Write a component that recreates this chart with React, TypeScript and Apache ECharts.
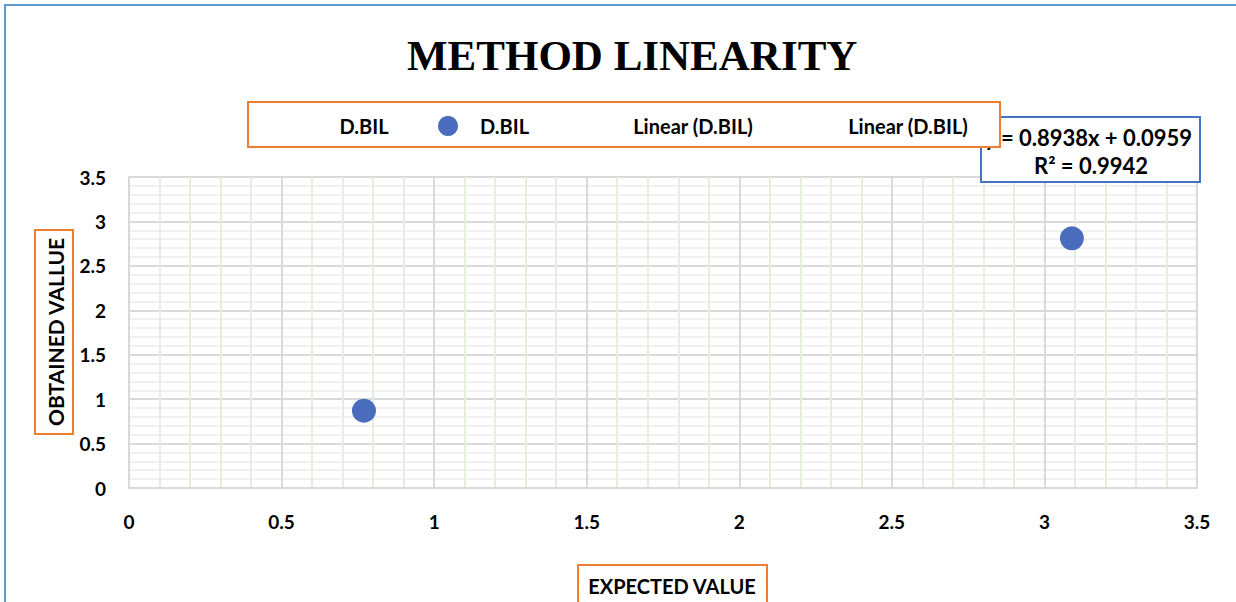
import React, { useEffect, useRef } from "react";
import * as echarts from "echarts";

const titleText = "METHOD LINEARITY";
const seriesName = "D.BIL";
const legendLabels = ["D.BIL", "D.BIL", "Linear (D.BIL)", "Linear (D.BIL)"];
const expectedValues = [0.77, 3.09];
const obtainedValues = [0.87, 2.81];
const equationLines = ["y = 0.8938x + 0.0959", "R² = 0.9942"];
const xAxisTitle = "EXPECTED VALUE";
const yAxisTitle = "OBTAINED VALLUE";

const FONT = "Lato, 'Open Sans', sans-serif";

export default function App() {
  const ref = useRef<HTMLDivElement>(null);
  useEffect(() => {
    document.body.style.margin = "0";
    const chart = echarts.init(ref.current!, null, { renderer: "svg" });
    const data = expectedValues.map((x, i) => [x, obtainedValues[i]]);
    const base = { fontFamily: FONT, fontWeight: "bold" as const, fill: "#000" };
    chart.setOption({
      animation: false,
      backgroundColor: "#fff",
      title: {
        text: titleText,
        left: 402,
        top: 29,
        textStyle: {
          fontFamily: "'Liberation Serif', 'Times New Roman', serif",
          fontWeight: "bold",
          fontSize: 43,
          color: "#000",
        },
      },
      grid: { left: 129, right: 39, top: 177, bottom: 114, containLabel: false },
      xAxis: {
        type: "value",
        min: 0,
        max: 3.5,
        interval: 0.5,
        axisLine: { show: true, lineStyle: { color: "#d9d9d9", width: 2 } },
        axisTick: { show: false },
        axisLabel: { margin: 24, fontFamily: FONT, fontWeight: "bold", fontSize: 19, color: "#000" },
        splitLine: { show: true, lineStyle: { color: "#d9d9d9", width: 2 } },
        minorTick: { show: false, splitNumber: 5 },
        minorSplitLine: { show: true, lineStyle: { color: "#e2efda", width: 2 } },
      },
      yAxis: {
        type: "value",
        min: 0,
        max: 3.5,
        interval: 0.5,
        axisLine: { show: true, lineStyle: { color: "#d9d9d9", width: 2 } },
        axisTick: { show: false },
        axisLabel: { margin: 23, fontFamily: FONT, fontWeight: "bold", fontSize: 19, color: "#000" },
        splitLine: { show: true, lineStyle: { color: "#d9d9d9", width: 2 } },
        minorTick: { show: false, splitNumber: 5 },
        minorSplitLine: { show: true, lineStyle: { color: "#f0f0f0", width: 2 } },
      },
      series: [
        {
          name: seriesName,
          type: "scatter",
          symbol: "circle",
          symbolSize: 24,
          itemStyle: { color: "#4a6cbd", opacity: 1 },
          data,
        },
      ],
      graphic: [
        {
          type: "rect",
          z: -10,
          silent: true,
          shape: { x: 5, y: 5, width: 1300, height: 700 },
          style: { fill: "none", stroke: "#5b9bd5", lineWidth: 2 },
        },
        {
          type: "rect",
          z: 10,
          shape: { x: 981, y: 117, width: 219, height: 65 },
          style: { fill: "#fff", stroke: "#4472c4", lineWidth: 2 },
        },
        {
          type: "text",
          z: 11,
          x: 1192,
          y: 137,
          style: { ...base, fontSize: 22, text: equationLines[0], align: "right", verticalAlign: "middle" },
        },
        {
          type: "text",
          z: 11,
          x: 1091,
          y: 165,
          style: { ...base, fontSize: 22, text: equationLines[1], align: "center", verticalAlign: "middle" },
        },
        {
          type: "rect",
          z: 20,
          shape: { x: 248, y: 102, width: 752, height: 45 },
          style: { fill: "#fff", stroke: "#ed7d31", lineWidth: 2 },
        },
        {
          type: "text",
          z: 21,
          x: 364,
          y: 126,
          style: { ...base, fontSize: 20, text: legendLabels[0], align: "center", verticalAlign: "middle" },
        },
        {
          type: "circle",
          z: 21,
          shape: { cx: 448, cy: 126, r: 10 },
          style: { fill: "#4a6cbd" },
        },
        {
          type: "text",
          z: 21,
          x: 480,
          y: 126,
          style: { ...base, fontSize: 20, text: legendLabels[1], align: "left", verticalAlign: "middle" },
        },
        {
          type: "text",
          z: 21,
          x: 693,
          y: 126,
          style: { ...base, fontSize: 20, text: legendLabels[2], align: "center", verticalAlign: "middle" },
        },
        {
          type: "text",
          z: 21,
          x: 908,
          y: 126,
          style: { ...base, fontSize: 20, text: legendLabels[3], align: "center", verticalAlign: "middle" },
        },
        {
          type: "rect",
          z: 20,
          shape: { x: 35, y: 230, width: 38, height: 204 },
          style: { fill: "#fff", stroke: "#ed7d31", lineWidth: 2 },
        },
        {
          type: "text",
          z: 21,
          x: 55,
          y: 332,
          rotation: Math.PI / 2,
          style: { ...base, fontSize: 21, text: yAxisTitle, align: "center", verticalAlign: "middle" },
        },
        {
          type: "rect",
          z: 20,
          shape: { x: 578, y: 565, width: 189, height: 45 },
          style: { fill: "#fff", stroke: "#ed7d31", lineWidth: 2 },
        },
        {
          type: "text",
          z: 21,
          x: 672,
          y: 586,
          style: { ...base, fontSize: 20, text: xAxisTitle, align: "center", verticalAlign: "middle" },
        },
      ],
    });
    return () => chart.dispose();
  }, []);
  return <div ref={ref} style={{ width: 1236, height: 602 }} />;
}
